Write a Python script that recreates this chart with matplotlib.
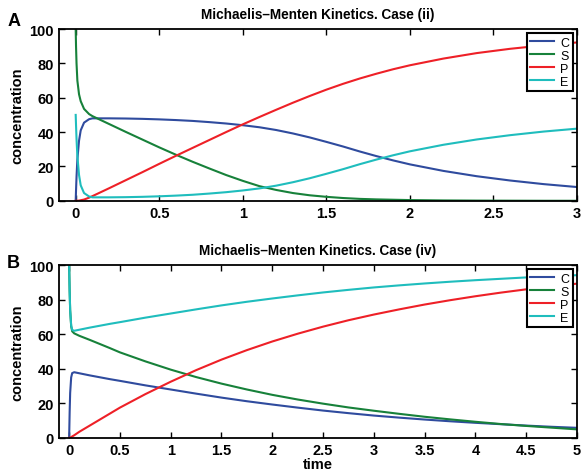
import matplotlib
matplotlib.use('Agg')
import matplotlib.pyplot as plt

# Case (ii)
t_a = [0, 0.002, 0.005, 0.01, 0.02, 0.03, 0.05, 0.08, 0.1, 0.15, 0.2, 0.3, 0.4, 0.5, 0.6,
       0.7, 0.8, 0.9, 1.0, 1.1, 1.2, 1.3, 1.4, 1.5, 1.6, 1.7, 1.8, 1.9, 2.0, 2.2, 2.4,
       2.6, 2.8, 3.0]
c_a = [0, 6, 14, 24, 35, 41, 45.5, 47.5, 48, 48, 48, 47.9, 47.7, 47.4, 47, 46.5, 45.8, 45,
       44, 42.8, 41.2, 39.2, 36.9, 34.3, 31.6, 28.7, 26, 23.5, 21.2, 17.4, 14.3, 11.8, 9.7, 8]
s_a = [100, 90, 80, 70, 62, 58, 53.5, 50.5, 49.3, 47, 44.7, 40.1, 35.6, 31.1, 26.8, 22.7,
       18.8, 15, 11.6, 8.5, 6.3, 4.5, 3.2, 2.3, 1.6, 1.1, 0.8, 0.6, 0.4, 0.2, 0.1, 0.05, 0, 0]
p_a = [0, 0, 0, 0, 0.1, 0.3, 0.7, 1.8, 2.7, 5, 7.3, 12, 16.7, 21.5, 26.2, 30.8, 35.4, 40,
       44.5, 48.8, 53, 57.1, 61, 64.7, 68.1, 71.2, 74, 76.6, 78.9, 82.8, 86, 88.5, 90.5, 92.2]
e_a = [50, 44, 36, 26, 15, 9, 4.5, 2.5, 2, 2, 2, 2.1, 2.3, 2.6, 3, 3.5, 4.2, 5, 6, 7.2,
       8.8, 10.8, 13.1, 15.7, 18.4, 21.3, 24, 26.5, 28.8, 32.6, 35.7, 38.2, 40.3, 42]

# Case (iv)
t_b = [0, 0.005, 0.01, 0.02, 0.03, 0.05, 0.1, 0.2, 0.3, 0.4, 0.5, 0.75, 1.0, 1.25, 1.5,
       1.75, 2.0, 2.25, 2.5, 2.75, 3.0, 3.25, 3.5, 3.75, 4.0, 4.25, 4.5, 4.75, 5.0]
c_b = [0, 15, 26, 35, 37.5, 38, 37.4, 36.2, 35.1, 34, 33, 30.4, 28, 25.6, 23.3, 21.2, 19.3,
       17.5, 15.8, 14.3, 12.9, 11.7, 10.6, 9.6, 8.7, 7.9, 7.1, 6.4, 5.8]
s_b = [100, 85, 73.9, 64.6, 61.7, 60.5, 59.1, 56.8, 54.4, 52, 49.5, 44.3, 39.5, 35.2, 31.4,
       28, 24.9, 22.2, 19.8, 17.6, 15.7, 13.9, 12.2, 10.7, 9.3, 8, 6.9, 5.9, 4.9]
p_b = [0, 0, 0.1, 0.4, 0.8, 1.5, 3.5, 7, 10.5, 14, 17.5, 25.3, 32.5, 39.2, 45.3, 50.8, 55.8,
       60.3, 64.4, 68.1, 71.4, 74.4, 77.2, 79.7, 82, 84.1, 86, 87.7, 89.3]
e_b = [100, 85, 74, 65, 62.5, 62, 62.6, 63.8, 64.9, 66, 67, 69.6, 72, 74.4, 76.7, 78.8,
       80.7, 82.5, 84.2, 85.7, 87.1, 88.3, 89.4, 90.4, 91.3, 92.1, 92.9, 93.6, 94.2]

colors = {'C': '#2f4b9e', 'S': '#17813a', 'P': '#ee2027', 'E': '#1fbdbd'}

plt.rcParams['font.family'] = ['Liberation Sans', 'DejaVu Sans']
plt.rcParams['font.weight'] = 'bold'

fig = plt.figure(figsize=(5.84, 4.77), dpi=100)
ax_a = fig.add_axes([0.101, 0.577, 0.887, 0.360])
ax_b = fig.add_axes([0.101, 0.080, 0.887, 0.362])


def draw_panel(ax, t, c, s, p, e, xmax, xticks, title, letter, letter_y):
    ax.plot(t, c, color=colors['C'], lw=1.5, label='C')
    ax.plot(t, s, color=colors['S'], lw=1.5, label='S')
    ax.plot(t, p, color=colors['P'], lw=1.5, label='P')
    ax.plot(t, e, color=colors['E'], lw=1.5, label='E')
    ax.set_xlim(-0.1, xmax)
    ax.set_ylim(0, 100)
    ax.set_xticks(xticks)
    ax.set_xticklabels([('%g' % v) for v in xticks])
    ax.set_yticks([0, 20, 40, 60, 80, 100])
    ax.tick_params(direction='in', top=True, right=True, labelsize=10.5, length=4, width=1)
    for lab in ax.get_xticklabels() + ax.get_yticklabels():
        lab.set_fontweight('bold')
    for sp in ax.spines.values():
        sp.set_linewidth(1.3)
    ax.set_ylabel('concentration', fontsize=10.5, fontweight='bold', labelpad=4)
    ax.set_title(title, fontsize=9.8, fontweight='bold', pad=8)
    ax.text(-0.1, letter_y, letter, transform=ax.transAxes, fontsize=13,
            fontweight='bold', ha='left', va='center')
    leg = ax.legend(loc='upper right', fontsize=9, handlelength=1.9, handletextpad=0.5,
                    borderpad=0.3, labelspacing=0.08, fancybox=False, framealpha=1,
                    borderaxespad=0.3)
    leg.get_frame().set_edgecolor('black')
    leg.get_frame().set_linewidth(1.5)
    for txt in leg.get_texts():
        txt.set_fontweight('normal')


draw_panel(ax_a, t_a, c_a, s_a, p_a, e_a, 3, [0, 0.5, 1, 1.5, 2, 2.5, 3],
           'Michaelis\u2013Menten Kinetics. Case (ii)', 'A', 1.05)
draw_panel(ax_b, t_b, c_b, s_b, p_b, e_b, 5,
           [0, 0.5, 1, 1.5, 2, 2.5, 3, 3.5, 4, 4.5, 5],
           'Michaelis\u2013Menten Kinetics. Case (iv)', 'B', 1.015)
ax_b.set_xlabel('time', fontsize=10.5, fontweight='bold', labelpad=0)

fig.savefig('out.png', dpi=100)
